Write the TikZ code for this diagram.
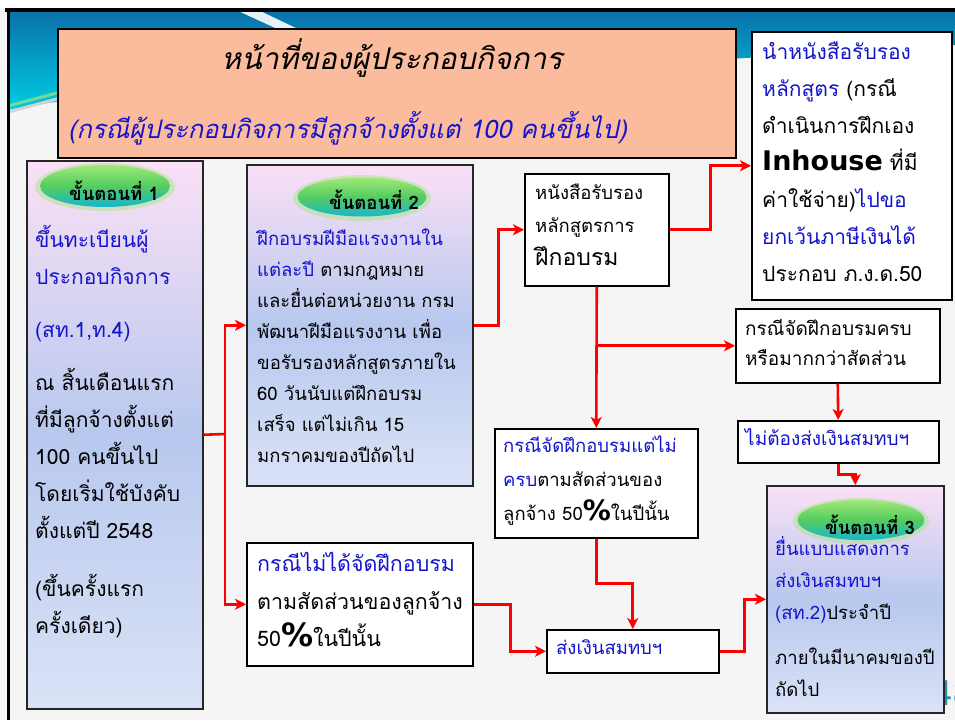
\documentclass[tikz,border=0pt]{standalone}
\usepackage{fontspec}
\setmainfont{Loma}[Script=Thai]
\newfontfamily\latinb{DejaVu Sans}
\usetikzlibrary{arrows.meta,shapes.geometric}
\definecolor{tblue}{RGB}{20,20,204}
\definecolor{peach}{RGB}{250,188,156}
\definecolor{bgc}{RGB}{245,245,245}
\definecolor{pinktop}{RGB}{250,224,246}
\definecolor{bluemid}{RGB}{184,200,238}
\definecolor{bluebot}{RGB}{218,226,246}
\definecolor{hdrtop}{RGB}{10,112,168}
\definecolor{hdrbot}{RGB}{0,205,228}
\definecolor{elltop}{RGB}{160,232,120}
\definecolor{ellmid}{RGB}{84,204,96}
\definecolor{ellbot}{RGB}{24,182,205}
\definecolor{pgnum}{RGB}{40,140,165}
\newcommand\bl[1]{\textcolor{tblue}{#1}}
\newcommand\fs[2]{\fontsize{#1}{#2}\selectfont}
\newcommand\pct[1]{{\latinb\bfseries\fontsize{#1}{#1}\selectfont\%}}
\begin{document}
\begin{tikzpicture}[x=1pt,y=-1pt,
  plainbox/.style={draw=black, line width=1.5pt, fill=white, inner sep=0pt, anchor=north west},
  stepbox/.style={draw=black!85, line width=1.5pt, top color=pinktop, bottom color=bluebot, middle color=bluemid, inner sep=0pt, anchor=north west},
  txt/.style={inner sep=0pt, anchor=base west, align=left, text=black},
  stepell/.style={ellipse, draw=none, top color=elltop, bottom color=ellbot, middle color=ellmid, inner sep=0pt},
  elltxt/.style={inner sep=0pt, font=\bfseries\fs{18.5}{18.5}, text=black},
  wire/.style={draw=red, line width=2.6pt},
  conn/.style={wire, -{Stealth[length=11pt,width=11pt,inset=3pt]}}]
\useasboundingbox (0,0) rectangle (955,720);
% background and header
\fill[bgc] (0,0) rectangle (955,720);
\fill[white] (0,0) rectangle (955,8);
\shade[top color=hdrtop, bottom color=hdrbot] (8,10) -- (955,10) -- (955,45)
  .. controls (850,52) and (700,62) .. (450,72) .. controls (220,84) and (80,95) .. (8,110) -- cycle;
\fill[white, opacity=.9] (236,10) -- (258,10) -- (300,30) -- (284,32) -- cycle;
\draw[line width=3pt, green!45!teal!55] (8,106) -- (57,93);
\draw[line width=3pt, gray!35] (8,112) -- (57,99);
\draw[line width=3.5pt] (5,9.8) -- (955,9.8);
\draw[line width=3.5pt] (8.3,9) -- (8.3,720);
% title
\node[draw=black, line width=1.5pt, fill=peach, inner sep=0pt, anchor=north west,
  minimum width=678pt, minimum height=129pt] (title) at (57,28) {};
\node[font=\itshape\fs{30}{30}] (t1) at (392,58) {หน้าที่ของผู้ประกอบกิจการ};
\node[font=\itshape\fs{25.5}{25.5}, text=tblue, anchor=west, inner sep=0pt] (t2) at (68,128) {(กรณีผู้ประกอบกิจการมีลูกจ้างตั้งแต่ 100 คนขึ้นไป)};
% page number (behind step 3)
\node[font=\latinb\fs{34}{34}, text=pgnum, anchor=west, inner sep=0pt] (pg) at (931,693) {48};
% boxes
\node[stepbox, minimum width=176pt, minimum height=548pt] (s1) at (26,160) {};
\node[stepbox, minimum width=226pt, minimum height=321pt] (s2) at (246,164) {};
\node[stepbox, minimum width=177pt, minimum height=227pt] (s3) at (766,485) {};
\node[plainbox, minimum width=200pt, minimum height=268pt] (inh) at (751,31) {};
\node[plainbox, minimum width=144pt, minimum height=112pt] (cert) at (524,173) {};
\node[plainbox, minimum width=204pt, minimum height=74pt] (full) at (735,308) {};
\node[plainbox, minimum width=201pt, minimum height=42pt] (nom) at (737,420) {};
\node[plainbox, minimum width=203pt, minimum height=109pt] (b2) at (494,428) {};
\node[plainbox, minimum width=226pt, minimum height=123pt] (c1) at (246,542) {};
\node[plainbox, minimum width=172pt, minimum height=43pt] (send) at (546,629) {};
% texts (anchor = baseline of the last line)
\node[txt, font=\fs{21}{37}] (s1t) at (35,633.5) {%
\bl{ขึ้นทะเบียนผู้}\\
\bl{ประกอบกิจการ}\\[16pt]
\bl{(สท.1,ท.4)}\\[16pt]
ณ สิ้นเดือนแรก\\
ที่มีลูกจ้างตั้งแต่\\
100 คนขึ้นไป\\
โดยเริ่มใช้บังคับ\\
ตั้งแต่ปี 2548\\[21pt]
(ขึ้นครั้งแรก\\
ครั้งเดียว)};
\node[txt, font=\fs{18.5}{31}] (s2t) at (257,462.5) {%
\bl{ฝึกอบรมฝีมือแรงงานใน}\\
\bl{แต่ละปี} ตามกฎหมาย\\
และยื่นต่อหน่วยงาน กรม\\
พัฒนาฝีมือแรงงาน เพื่อ\\
ขอรับรองหลักสูตรภายใน\\
60 วันนับแต่ฝึกอบรม\\
เสร็จ แต่ไม่เกิน 15\\
มกราคมของปีถัดไป};
\node[txt, font=\fs{18.5}{32}] (s3t) at (775,696) {%
\bl{ยื่นแบบแสดงการ}\\
\bl{ส่งเงินสมทบฯ}\\
\bl{(สท.2)}ประจำปี\\[13pt]
ภายในมีนาคมของปี\\
ถัดไป};
\node[txt, font=\fs{21}{37}] (inht) at (762,281.5) {%
\bl{นำหนังสือรับรอง}\\
\bl{หลักสูตร} (กรณี\\
ดำเนินการฝึกเอง\\
{\latinb\bfseries\fs{27}{27}Inhouse} ที่มี\\
ค่าใช้จ่าย)\bl{ไปขอ}\\
\bl{ยกเว้นภาษีเงินได้}\\
ประกอบ ภ.ง.ด.50};
\node[txt, font=\fs{18.5}{33}] (certt) at (535,265) {%
หนังสือรับรอง\\
หลักสูตรการ\\
{\fs{23}{23}ฝึกอบรม}};
\node[txt, font=\fs{19}{30}] (fullt) at (745,365.5) {%
กรณีจัดฝึกอบรมครบ\\
หรือมากกว่าสัดส่วน};
\node[txt, font=\fs{19}{19}] (nomt) at (745,445.5) {\bl{ไม่ต้องส่งเงินสมทบฯ}};
\node[txt, font=\fs{18.5}{34}] (b2t) at (503,520.5) {%
\bl{กรณีจัดฝึกอบรมแต่ไม่}\\
\bl{ครบ}ตามสัดส่วนของ\\
ลูกจ้าง 50\pct{28}ในปีนั้น};
\node[txt, font=\fs{21.4}{37.5}] (c1t) at (257,646.5) {%
\bl{กรณีไม่ได้จัดฝึกอบรม}\\
ตามสัดส่วนของลูกจ้าง\\
50\pct{32}ในปีนั้น};
\node[txt, font=\fs{18.5}{18.5}] (sendt) at (556,654.5) {\bl{ส่งเงินสมทบฯ}};
% ellipses
\fill[elltop, opacity=.45] (105,187) ellipse (70pt and 24pt);
\node[stepell, minimum width=130pt, minimum height=42pt] (e1) at (105,186) {};
\node[elltxt] (e1t) at (114,191) {ขั้นตอนที่ 1};
\fill[elltop, opacity=.45] (362,198) ellipse (69pt and 23pt);
\node[stepell, minimum width=129pt, minimum height=39pt] (e2) at (362,197) {};
\node[elltxt] (e2t) at (374,200) {ขั้นตอนที่ 2};
\fill[elltop, opacity=.45] (861,521) ellipse (68pt and 23pt);
\node[stepell, minimum width=127pt, minimum height=40pt] (e3) at (861,520) {};
\node[elltxt] (e3t) at (870,525) {ขั้นตอนที่ 3};
% connectors
\coordinate (j1) at (225,434);
\draw[wire] (s1.east) -- (j1);
\draw[conn] (j1) |- (s2.west);
\draw[conn] (j1) |- (c1.west);
\draw[conn] (s2.east) -- ++(25,0) |- (cert.west);
\draw[conn] (cert.east) -- ++(41,0) |- (inh.west);
\coordinate (j2) at (cert.south |- full.west);
\draw[conn] (cert.south) -- (b2.north);
\draw[conn] (j2) -- (full.west);
\draw[conn] (full.south) -- (nom.north);
\draw[conn] (nom.south) -- ++(0,11) -| (s3.north);
\draw[conn] (b2.south) -- ++(0,45) -| (send.north);
\draw[conn] (c1.east) -- ++(37,0) |- (send.west);
\draw[conn] (send.east) -- ++(25,0) |- (s3.west);
\end{tikzpicture}
\end{document}
